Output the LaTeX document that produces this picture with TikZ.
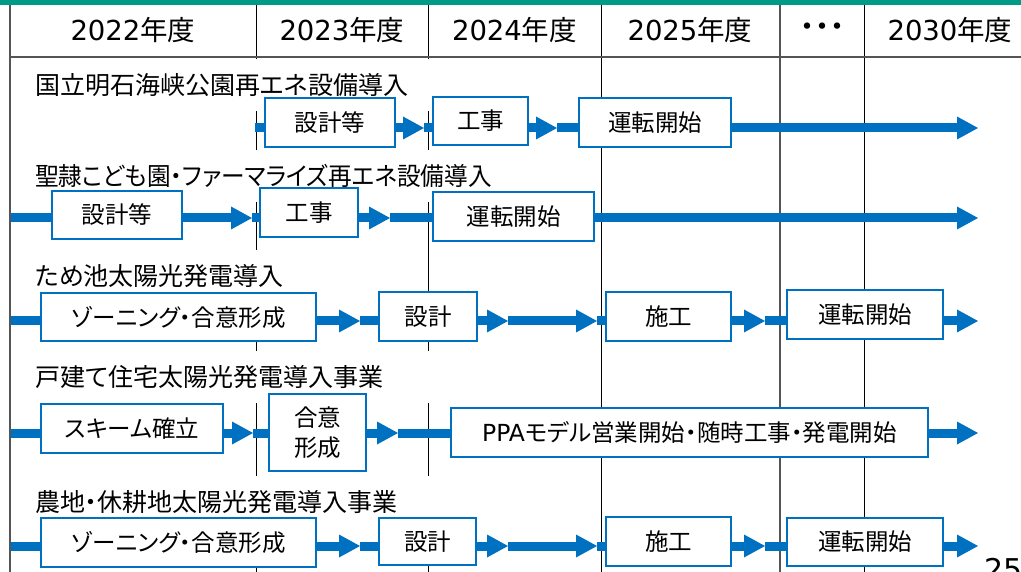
\documentclass[tikz,border=0pt]{standalone}
\usepackage{fontspec}
\setmainfont{Noto Sans CJK JP}
\newfontfamily\jpp{Noto Sans CJK JP}[RawFeature=+palt]
\newfontfamily\jppn{Noto Sans CJK JP}[RawFeature=+palt,FakeStretch=0.945]
\newfontfamily\dv{DejaVu Sans}
\usetikzlibrary{arrows.meta}
\definecolor{flowblue}{HTML}{0070C0}
\definecolor{bargreen}{HTML}{009B86}
\definecolor{gridgray}{HTML}{555555}
\pgfdeclarelayer{bg}
\pgfdeclarelayer{mid}
\pgfsetlayers{bg,mid,main}
\begin{document}
\begin{tikzpicture}[x=1pt,y=-1pt,
  stepbox/.style={draw=flowblue,line width=2pt,fill=white,inner sep=0pt,align=center,font=\jpp\fontsize{23.5}{30}\selectfont},
  rowtitle/.style={anchor=west,fill=white,inner xsep=10pt,inner ysep=0pt,minimum height=52pt,align=left,font=\jpp\fontsize{25}{30}\selectfont},
  yearlabel/.style={font=\fontsize{27.5}{32}\selectfont,inner sep=0pt},
  gridline/.style={line width=0.9pt,black},
  flowline/.style={draw=flowblue,line width=9pt},
  flowarrow/.style={flowline,-{Triangle[length=21pt,width=23pt,line width=0pt]}},
]
\useasboundingbox (0,0) rectangle (1021,572);

% ---------- background grid ----------
\begin{pgfonlayer}{bg}
\fill[bargreen] (0,0) rectangle (1021,5);
\draw[gridgray,line width=2pt] (10,5) -- (10,572);
\foreach \gx in {256,428,601,864} \draw[gridline] (\gx,5) -- (\gx,572);
\draw[gridgray,line width=1.6pt] (780,5) -- (780,572);

\node[yearlabel] (h1) at (133,30) {{\dv 2022}年度};
\node[yearlabel] (h2) at (342,30) {{\dv 2023}年度};
\node[yearlabel] (h3) at (514.5,30) {{\dv 2024}年度};
\node[yearlabel] (h4) at (690,30) {{\dv 2025}年度};
\node[yearlabel,font=\jpp\fontsize{30}{32}\selectfont] (h5) at (822,30) {・・・};
\node[yearlabel] (h6) at (950,30) {{\dv 2030}年度};

\node[rowtitle,text width=400pt] (T1) at (25,85) {国立明石海峡公園再エネ設備導入};
\node[rowtitle,text width=460pt,font=\jppn\fontsize{25}{30}\selectfont] (T2) at (25,176) {聖隷こども園・ファーマライズ再エネ設備導入};
\node[rowtitle,text width=255pt] (T3) at (25,276) {ため池太陽光発電導入};
\node[rowtitle,text width=400pt] (T4) at (25,377) {戸建て住宅太陽光発電導入事業};
\node[rowtitle,text width=400pt] (T5) at (25,502) {農地・休耕地太陽光発電導入事業};
\end{pgfonlayer}

% header separator (top layer)
\fill[gridgray] (10,56) rectangle (1021,58);

% ---------- step boxes ----------
% row 1
\node[stepbox,minimum width=130pt,minimum height=49pt] (a1) at (330,122.5) {設計等};
\node[stepbox,minimum width=95pt,minimum height=48pt] (a2) at (480.5,121) {工事};
\node[stepbox,minimum width=152pt,minimum height=49pt] (a3) at (655,122.5) {運転開始};
% row 2
\node[stepbox,minimum width=130pt,minimum height=48pt] (b1) at (117,215) {設計等};
\node[stepbox,minimum width=98pt,minimum height=49pt] (b2) at (309,212.5) {工事};
\node[stepbox,minimum width=161pt,minimum height=49pt] (b3) at (513.5,216.5) {運転開始};
% row 3
\node[stepbox,minimum width=275pt,minimum height=48pt] (c1) at (178.5,317) {ゾーニング・合意形成};
\node[stepbox,minimum width=98pt,minimum height=49pt] (c2) at (428,316.5) {設計};
\node[stepbox,minimum width=125pt,minimum height=49pt] (c3) at (668.5,316.5) {施工};
\node[stepbox,minimum width=156pt,minimum height=49pt] (c4) at (865,314.5) {運転開始};
% row 4
\node[stepbox,minimum width=182pt,minimum height=49pt] (d1) at (132,428.5) {スキーム確立};
\node[stepbox,minimum width=97pt,minimum height=77pt] (d2) at (317.5,432.5) {合意\\形成};
\node[stepbox,minimum width=477pt,minimum height=49pt] (d3) at (689.5,432.5) {{\dv PPA}モデル営業開始・随時工事・発電開始};
% row 5
\node[stepbox,minimum width=275pt,minimum height=49pt] (e1) at (178.5,542.5) {ゾーニング・合意形成};
\node[stepbox,minimum width=97pt,minimum height=47pt] (e2) at (427.5,541.5) {設計};
\node[stepbox,minimum width=125pt,minimum height=49pt] (e3) at (668.5,541.5) {施工};
\node[stepbox,minimum width=156pt,minimum height=48pt] (e4) at (865,542) {運転開始};

\node[anchor=base west,inner sep=0pt,font=\dv\fontsize{30}{36}\selectfont] (pg) at (984,580) {25};

% ---------- flow lines ----------
\coordinate (s1) at (255,128);  \coordinate (t11) at (424,128);
\coordinate (t12) at (557,128); \coordinate (t13) at (978,128);
\coordinate (s2) at (11,218);   \coordinate (t21) at (252,218);
\coordinate (t22) at (390,218); \coordinate (t23) at (978,218);
\coordinate (s3) at (11,321);   \coordinate (t31) at (360,321);
\coordinate (t32) at (508,321); \coordinate (t33) at (597,321);
\coordinate (t34) at (765,321); \coordinate (t35) at (978,321);
\coordinate (s4) at (11,433);   \coordinate (t41) at (253,433);
\coordinate (t42) at (398,433); \coordinate (t43) at (978,433);
\coordinate (s5) at (11,546);   \coordinate (t51) at (360,546);
\coordinate (t52) at (508,546); \coordinate (t53) at (597,546);
\coordinate (t54) at (765,546); \coordinate (t55) at (978,546);

\begin{pgfonlayer}{mid}
% row 1
\draw[flowline] (s1) -- (a1.west |- s1);
\draw[flowarrow] (a1.east |- s1) -- (t11);
\draw[flowline] (t11) -- (a2.west |- s1);
\draw[flowarrow] (a2.east |- s1) -- (t12);
\draw[flowline] (t12) -- (a3.west |- s1);
\draw[flowarrow] (a3.east |- s1) -- (t13);
% row 2
\draw[flowline] (s2) -- (b1.west |- s2);
\draw[flowarrow] (b1.east |- s2) -- (t21);
\draw[flowline] (t21) -- (b2.west |- s2);
\draw[flowarrow] (b2.east |- s2) -- (t22);
\draw[flowline] (t22) -- (b3.west |- s2);
\draw[flowarrow] (b3.east |- s2) -- (t23);
% row 3
\draw[flowline] (s3) -- (c1.west |- s3);
\draw[flowarrow] (c1.east |- s3) -- (t31);
\draw[flowline] (t31) -- (c2.west |- s3);
\draw[flowarrow] (c2.east |- s3) -- (t32);
\draw[flowarrow] (t32) -- (t33);
\draw[flowline] (t33) -- (c3.west |- s3);
\draw[flowarrow] (c3.east |- s3) -- (t34);
\draw[flowline] (t34) -- (c4.west |- s3);
\draw[flowarrow] (c4.east |- s3) -- (t35);
% row 4
\draw[flowline] (s4) -- (d1.west |- s4);
\draw[flowarrow] (d1.east |- s4) -- (t41);
\draw[flowline] (t41) -- (d2.west |- s4);
\draw[flowarrow] (d2.east |- s4) -- (t42);
\draw[flowline] (t42) -- (d3.west |- s4);
\draw[flowarrow] (d3.east |- s4) -- (t43);
% row 5
\draw[flowline] (s5) -- (e1.west |- s5);
\draw[flowarrow] (e1.east |- s5) -- (t51);
\draw[flowline] (t51) -- (e2.west |- s5);
\draw[flowarrow] (e2.east |- s5) -- (t52);
\draw[flowarrow] (t52) -- (t53);
\draw[flowline] (t53) -- (e3.west |- s5);
\draw[flowarrow] (e3.east |- s5) -- (t54);
\draw[flowline] (t54) -- (e4.west |- s5);
\draw[flowarrow] (e4.east |- s5) -- (t55);
\end{pgfonlayer}
\end{tikzpicture}
\end{document}
